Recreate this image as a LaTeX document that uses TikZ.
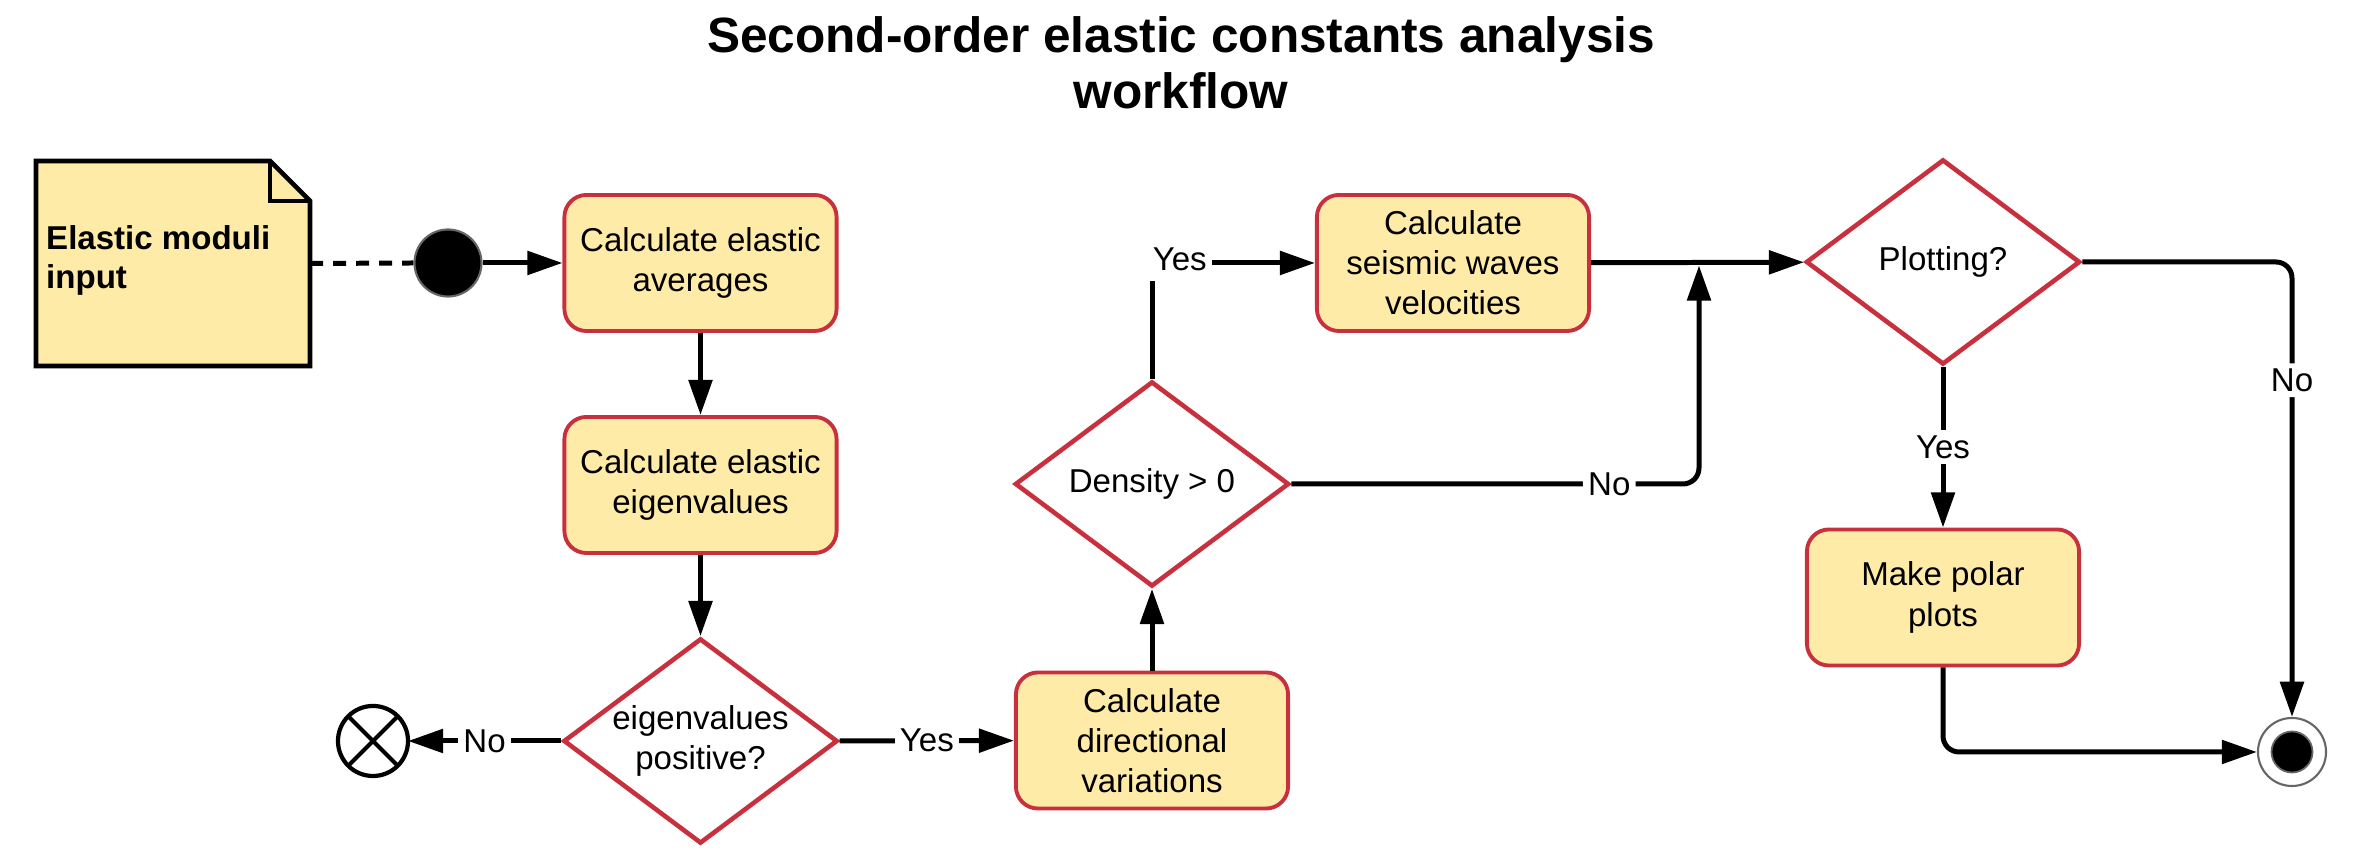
\documentclass[tikz,border=0pt]{standalone}
\usepackage{fontspec}
\setmainfont{Liberation Sans}
\usetikzlibrary{arrows.meta,shapes.geometric}
\definecolor{boxfill}{HTML}{FFEBA8}
\definecolor{boxred}{HTML}{C9303E}
\definecolor{ringgray}{HTML}{666666}
\begin{document}
\begin{tikzpicture}[x=0.01cm,y=-0.01cm,
  every node/.style={font=\fontsize{9.4}{11.4}\selectfont},
  proc/.style={rectangle, rounded corners=0.22cm, draw=boxred, line width=1.1pt, fill=boxfill,
    minimum width=2.72cm, minimum height=1.36cm, align=center, inner sep=0pt},
  dec/.style={diamond, draw=boxred, line width=1.3pt, fill=white,
    minimum width=2.74cm, minimum height=2.05cm, inner sep=0pt},
  dectext/.style={align=center, inner sep=0pt},
  conn/.style={line width=1.42pt, -{Triangle[length=10pt,width=6.6pt]}},
  lbl/.style={fill=white, inner sep=1.5pt},
]
\useasboundingbox (0,0) rectangle (2362,862);

% title
\node (title) [align=center, inner sep=0pt, font=\fontsize{14.1}{15.9}\selectfont\bfseries]
  at (1181,63) {Second-order elastic constants analysis\\workflow};

% note
\node (note) [minimum width=2.74cm, minimum height=2.05cm, inner sep=0pt, outer sep=0pt] at (173,263.5) {};
\fill[boxfill] (36,161) -- (270,161) -- (310,201) -- (310,366) -- (36,366) -- cycle;
\draw[line width=1.3pt, line join=miter] (36,161) -- (270,161) -- (310,201) -- (310,366) -- (36,366) -- cycle;
\draw[line width=1.3pt] (270,161) -- (270,201) -- (310,201);
\node (notetxt) [anchor=west, align=left, inner sep=0pt, font=\fontsize{9.4}{11.1}\selectfont\bfseries]
  at (45.5,260) {Elastic moduli\\input};

% start / end markers
\node (start) [circle, fill=black, draw=ringgray, line width=0.6pt, minimum size=0.67cm, inner sep=0pt] at (448,263) {};
\node (xend) [circle, draw=black, line width=1.2pt, fill=white, minimum size=0.70cm, inner sep=0pt, outer sep=0pt] at (373,741) {};
\draw[line width=1.2pt] (xend.north east) -- (xend.south west) (xend.north west) -- (xend.south east);
\node (fin) [circle, draw=ringgray, line width=0.6pt, fill=white, minimum size=0.68cm, inner sep=0pt] at (2292,752) {};
\node (finin) [circle, fill=black, draw=ringgray, line width=0.5pt, minimum size=0.41cm, inner sep=0pt] at (fin.center) {};

% process boxes
\node (box1) [proc] at (700.5,263) {Calculate elastic\\averages};
\node (box2) [proc] at (700.5,485) {Calculate elastic\\eigenvalues};
\node (box3) [proc] at (1152,740.5) {Calculate\\directional\\variations};
\node (box4) [proc] at (1453,263) {Calculate\\seismic waves\\velocities};
\node (box5) [proc] at (1943,597.5) {Make polar\\plots};

% decisions
\node (d1) [dec] at (700.5,741) {};
\node (d1t) [dectext] at (d1.center) {eigenvalues\\positive?};
\node (d2) [dec] at (1152,484) {};
\node (d2t) [dectext] at (d2.center) {Density > 0};
\node (d3) [dec] at (1943,262) {};
\node (d3t) [dectext] at (d3.center) {Plotting?};

% connectors
\draw[line width=1.42pt, dash pattern=on 0.13cm off 0.1cm] (note.east) -- (start.west);
\draw[conn] (start) -- (box1);
\draw[conn] (box1) -- (box2);
\draw[conn] (box2) -- (d1);
\draw[conn] (d1) -- node[lbl]{No} (xend);
\draw[conn] (d1) -- node[lbl]{Yes} (box3);
\draw[conn] (box3) -- (d2);
\draw[conn] (d2.north) |- node[lbl, pos=0.5, anchor=west, inner ysep=0.1cm, xshift=-0.07cm, yshift=0.04cm]{Yes} (box4.west);
\coordinate (j) at (1699,265.5);
\draw[conn, rounded corners=0.16cm] (d2.east) -| node[lbl, pos=0.39]{No} (j);
\draw[conn] (box4) -- (d3);
\draw[conn, rounded corners=0.16cm] (d3.east) -| node[lbl, pos=0.63]{No} (fin.north);
\draw[conn] (d3) -- node[lbl]{Yes} (box5);
\draw[conn, rounded corners=0.16cm] (box5.south) |- (fin.west);
\end{tikzpicture}
\end{document}
